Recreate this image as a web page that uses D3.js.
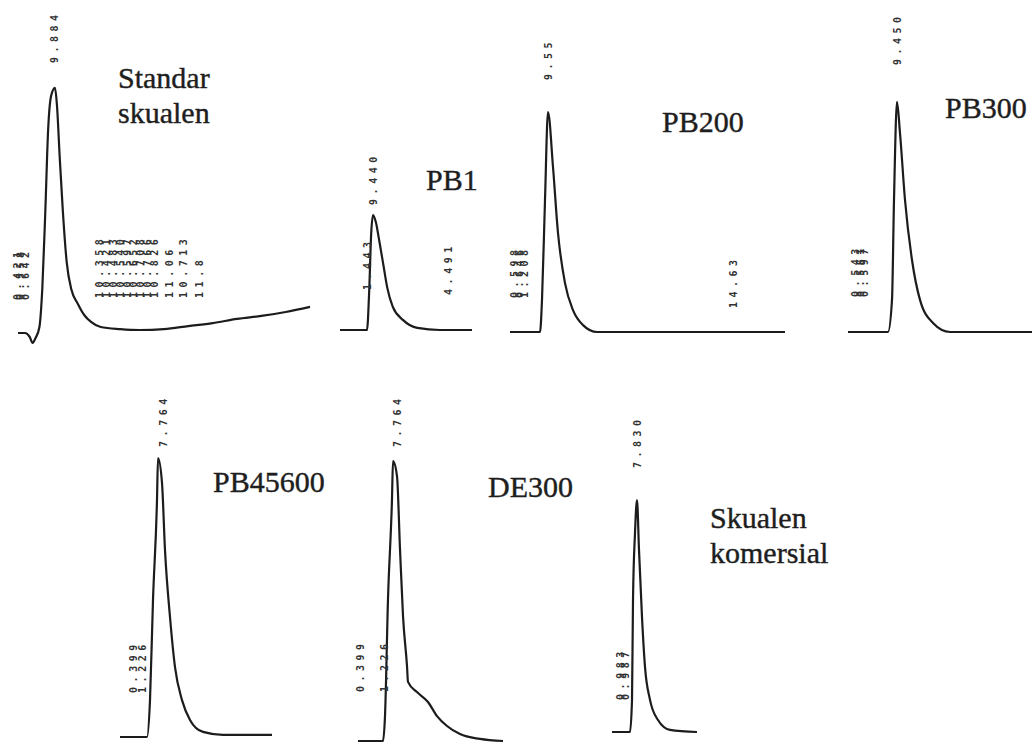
<!DOCTYPE html>
<html>
<head>
<meta charset="utf-8">
<script src="https://cdn.jsdelivr.net/npm/d3@7"></script>
<style>
  body { margin: 0; background: #fff; }
  .trace { fill: none; stroke: #1c1c1c; stroke-width: 2.2; stroke-linejoin: round; }
  .rt { font-family: "DejaVu Sans Mono", monospace; font-size: 10px; font-weight: bold; letter-spacing: 4.5px; fill: #333; }
  .title { font-family: "Liberation Serif", "Times New Roman", serif; font-size: 30px; fill: #1e1e1e; stroke: #1e1e1e; stroke-width: 0.4; }
</style>
</head>
<body>
<script>
// retention time (min) and detector signal (% of full scale)
const stdTime   = [9.50, 9.57, 9.62, 9.65, 9.68, 9.72, 9.75, 9.78, 9.81, 9.84, 9.88, 9.90, 9.93, 9.96, 10.00, 10.05, 10.11, 10.18, 10.25, 10.35, 10.55, 10.75, 11.00, 11.25, 11.50, 11.75, 12.00, 12.25, 12.50];
const stdSignal = [0, 0, -1.3, -3.3, -1.7, 2, 15, 40, 68, 79, 81.7, 76, 57.7, 41, 23.7, 14.3, 10, 6, 3.7, 2, 1.3, 1, 1.3, 2.3, 3.3, 4.7, 5.7, 7, 8.7];

const pb1Time   = [9.10, 9.386, 9.41, 9.43, 9.45, 9.48, 9.515, 9.56, 9.60, 9.66, 9.77, 9.92, 10.16, 10.50];
const pb1Signal = [0, 0, 13.3, 31.7, 38.3, 36, 30, 21.7, 14.3, 7.7, 3.3, 0.7, 0, 0];

const pb200Time   = [9.17, 9.47, 9.49, 9.52, 9.55, 9.60, 9.65, 9.72, 9.80, 9.90, 10.04, 11.92];
const pb200Signal = [0, 0, 10.7, 44, 73.3, 55, 33, 16.3, 7.3, 2.3, 0, 0];

const pb300Time   = [8.96, 9.36, 9.40, 9.42, 9.45, 9.48, 9.53, 9.60, 9.68, 9.81, 9.98, 10.80];
const pb300Signal = [0, 0, 10.7, 44, 76.7, 66.3, 44, 24, 10.7, 3, 0, 0];

const pb45600Time   = [9.38, 9.65, 9.68, 9.71, 9.75, 9.76, 9.80, 9.83, 9.88, 9.93, 10.00, 10.08, 10.21, 10.41, 10.90];
const pb45600Signal = [0, 0, 12.3, 45.7, 79, 93, 84.7, 62.3, 40, 23.3, 12.3, 5.7, 1.7, 0.7, 0.7];

const de300Time   = [9.41, 9.66, 9.68, 9.71, 9.75, 9.76, 9.80, 9.83, 9.86, 9.90, 9.91, 10.00, 10.11, 10.20, 10.30, 10.43, 10.63, 10.86];
const de300Signal = [0, 0, 8.3, 47.3, 80.7, 93.3, 88.3, 64, 41.7, 25, 19.7, 16.3, 13, 8.3, 5, 2.3, 0.7, 0];

const komTime   = [9.68, 9.86, 9.88, 9.89, 9.91, 9.93, 9.95, 9.98, 10.01, 10.06, 10.14, 10.26, 10.53];
const komSignal = [0, 0, 10.7, 44, 66.3, 77.3, 60.7, 38.3, 21.7, 10.7, 4, 0.7, 0];

// printed retention-time labels: [time, signal level where the label starts, text]
const stdLabels = [
  [9.88, 90, "9.884"],
  [9.49, 11, "0.421"], [9.53, 11, "0.558"], [9.58, 11, "0.642"],
  [10.34, 11.7, "10.358"], [10.41, 11.7, "10.421"], [10.48, 11.7, "10.483"],
  [10.55, 11.7, "10.540"], [10.62, 11.7, "10.597"], [10.69, 11.7, "10.652"],
  [10.76, 11.7, "10.708"], [10.83, 11.7, "10.766"], [10.90, 11.7, "10.826"],
  [11.06, 11.7, "11.06"], [11.20, 11.7, "10.713"], [11.36, 11.7, "11.8"]
];
const pb1Labels = [[9.45, 41.7, "9.440"], [9.39, 13.3, "1.443"], [10.25, 11.7, "4.491"]];
const pb200Labels = [[9.55, 84, "9.55"], [9.21, 11.3, "0.598"], [9.26, 11.3, "0.646"], [9.31, 11.3, "1.208"], [11.40, 8, "14.63"]];
const pb300Labels = [[9.45, 89, "9.450"], [9.03, 11.7, "0.543"], [9.08, 11.7, "0.561"], [9.12, 11.7, "0.597"]];
const pb45600Labels = [[9.81, 96.7, "7.764"], [9.51, 14.7, "0.399"], [9.60, 14.7, "1.226"]];
const de300Labels = [[9.80, 98, "7.764"], [9.43, 16.3, "0.399"], [9.67, 16.3, "1.226"]];
const komLabels = [[9.93, 88, "7.830"], [9.76, 10.7, "0.983"], [9.81, 10.7, "0.987"]];

const sampleNames = [["Standar", "skualen"], ["PB1"], ["PB200"], ["PB300"], ["PB45600"], ["DE300"], ["Skualen", "komersial"]];

// where each chromatogram sits on the page
const panels = [
  {time: stdTime,     signal: stdSignal,     labels: stdLabels,     left: 18,  right: 310,  base: 333, tx: 118, ty: 88},
  {time: pb1Time,     signal: pb1Signal,     labels: pb1Labels,     left: 340, right: 472,  base: 330, tx: 426, ty: 190},
  {time: pb200Time,   signal: pb200Signal,   labels: pb200Labels,   left: 510, right: 785,  base: 332, tx: 662, ty: 132},
  {time: pb300Time,   signal: pb300Signal,   labels: pb300Labels,   left: 848, right: 1032, base: 332, tx: 945, ty: 118},
  {time: pb45600Time, signal: pb45600Signal, labels: pb45600Labels, left: 120, right: 272,  base: 737, tx: 213, ty: 492},
  {time: de300Time,   signal: de300Signal,   labels: de300Labels,   left: 358, right: 503,  base: 741, tx: 488, ty: 497},
  {time: komTime,     signal: komSignal,     labels: komLabels,     left: 612, right: 697,  base: 732, tx: 710, ty: 528}
];

const svg = d3.select("body").append("svg")
    .attr("width", 1032)
    .attr("height", 745);

panels.forEach((p, i) => drawPanel(p, sampleNames[i]));

function drawPanel(p, name) {
  const x = d3.scaleLinear()
      .domain(d3.extent(p.time))
      .range([p.left, p.right]);
  const y = d3.scaleLinear()
      .domain([0, 100])
      .range([p.base, p.base - 300]);

  const pts = p.time.map((t, k) => [t, p.signal[k]]);
  const line = d3.line()
      .x(d => x(d[0]))
      .y(d => y(d[1]))
      .curve(d3.curveMonotoneX);

  const g = svg.append("g");

  g.append("path")
      .attr("class", "trace")
      .attr("d", line(pts));

  // rotated retention-time labels, reading bottom to top
  g.selectAll("text.rt")
    .data(p.labels)
    .join("text")
      .attr("class", "rt")
      .attr("transform", d => `translate(${x(d[0])},${y(d[1])}) rotate(-90)`)
      .attr("dy", "0.35em")
      .text(d => d[2]);

  g.selectAll("text.title")
    .data(name)
    .join("text")
      .attr("class", "title")
      .attr("x", p.tx)
      .attr("y", (d, k) => p.ty + k * 35)
      .text(d => d);
}
</script>
</body>
</html>
